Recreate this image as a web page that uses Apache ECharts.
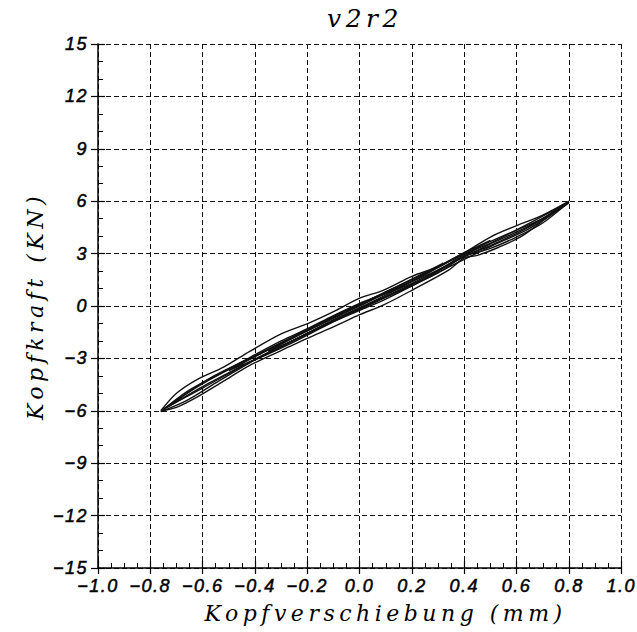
<!DOCTYPE html>
<html>
<head>
<meta charset="utf-8">
<script src="https://cdn.jsdelivr.net/npm/echarts@6/dist/echarts.min.js"></script>
<style>
  html, body { margin: 0; padding: 0; background: #fff; }
  #chart { width: 637px; height: 632px; }
  /* wide, typewriter-like spacing for all chart text */
  #chart text { letter-spacing: 1.5px; }
  #chart text[style*="Serif"], #chart text[font-family*="Serif"] { letter-spacing: 4.5px; }
</style>
</head>
<body>
<div id="chart"></div>
<script>
// Head displacement (mm) vs. head force (kN), test v2r2: hysteresis cycles.
const chartTitle = 'v2r2';
const xTitle = 'Kopfverschiebung (mm)';
const yTitle = 'Kopfkraft (KN)';

const xTicks = [-1.0, -0.8, -0.6, -0.4, -0.2, 0.0, 0.2, 0.4, 0.6, 0.8, 1.0];
const yTicks = [-15, -12, -9, -6, -3, 0, 3, 6, 9, 12, 15];

// Each cycle: [displacement, force] pairs, out along one branch and back along the other.
const cycle1 = [
  [-0.76, -6.0], [-0.70, -5.0], [-0.62, -4.2], [-0.52, -3.5], [-0.42, -2.6],
  [-0.30, -1.6], [-0.19, -0.95], [-0.09, -0.25], [0.00, 0.45], [0.09, 0.9],
  [0.20, 1.7], [0.30, 2.25], [0.40, 3.05], [0.50, 3.95], [0.60, 4.6],
  [0.70, 5.2], [0.80, 6.0],
  [0.72, 5.1], [0.62, 4.0], [0.53, 3.35], [0.45, 2.9], [0.40, 2.75],
  [0.34, 2.05], [0.20, 0.9], [0.09, 0.05], [0.00, -0.5], [-0.10, -1.2],
  [-0.20, -1.85], [-0.30, -2.55], [-0.42, -3.4], [-0.52, -4.3], [-0.62, -5.2],
  [-0.70, -5.8], [-0.76, -6.0]
];
const cycle2 = [
  [-0.76, -6.05], [-0.66, -4.9], [-0.55, -4.0], [-0.42, -2.95], [-0.30, -2.0],
  [-0.20, -1.3], [-0.10, -0.55], [0.00, 0.15], [0.10, 0.75], [0.20, 1.4],
  [0.30, 2.2], [0.40, 3.0], [0.50, 3.7], [0.60, 4.35], [0.70, 5.0], [0.80, 5.95],
  [0.70, 4.75], [0.60, 3.95], [0.50, 3.3], [0.40, 2.85], [0.30, 2.0],
  [0.20, 1.15], [0.10, 0.4], [0.00, -0.25], [-0.10, -0.9], [-0.20, -1.6],
  [-0.30, -2.35], [-0.42, -3.25], [-0.55, -4.4], [-0.66, -5.4], [-0.76, -6.05]
];
const cycle3 = [
  [-0.75, -5.9], [-0.60, -4.45], [-0.45, -3.25], [-0.30, -2.1], [-0.15, -1.0],
  [0.00, 0.0], [0.15, 1.1], [0.30, 2.05], [0.40, 2.95], [0.50, 3.6],
  [0.65, 4.75], [0.79, 5.85],
  [0.65, 4.55], [0.50, 3.45], [0.40, 2.85], [0.30, 1.9], [0.15, 0.85],
  [0.00, -0.2], [-0.15, -1.2], [-0.30, -2.3], [-0.45, -3.45], [-0.60, -4.7],
  [-0.75, -5.9]
];
const cycle4 = [
  [-0.74, -5.85], [-0.58, -4.2], [-0.40, -2.85], [-0.25, -1.75], [-0.10, -0.6],
  [0.05, 0.4], [0.20, 1.3], [0.35, 2.45], [0.50, 3.55], [0.65, 4.6], [0.80, 5.9],
  [0.65, 4.45], [0.50, 3.4], [0.35, 2.3], [0.20, 1.15], [0.05, 0.2],
  [-0.10, -0.8], [-0.25, -1.95], [-0.40, -3.05], [-0.58, -4.45], [-0.74, -5.85]
];
const cycle5 = [
  [-0.50, -3.7], [-0.38, -2.75], [-0.25, -1.8], [-0.12, -0.85], [0.00, 0.05],
  [0.12, 0.95], [0.25, 1.85], [0.38, 2.9], [0.50, 3.75],
  [0.38, 2.7], [0.25, 1.6], [0.12, 0.7], [0.00, -0.15], [-0.12, -1.05],
  [-0.25, -2.05], [-0.38, -2.95], [-0.50, -3.7]
];
const cycle6 = [
  [-0.35, -2.6], [-0.22, -1.55], [-0.08, -0.45], [0.05, 0.45], [0.18, 1.4],
  [0.32, 2.45],
  [0.18, 1.25], [0.05, 0.25], [-0.08, -0.65], [-0.22, -1.75], [-0.35, -2.6]
];
const cycles = [cycle1, cycle2, cycle3, cycle4, cycle5, cycle6];

const ink = '#000';
const labelFont = {
  fontFamily: 'Liberation Sans', fontStyle: 'italic', fontSize: 18, color: ink,
  textBorderColor: ink, textBorderWidth: 0.5
};
const titleFont = { fontFamily: 'DejaVu Serif', fontStyle: 'italic', fontSize: 22, color: ink };
const minus = s => String(s).replace('-', '\u2212');

const grid = { left: 98, top: 44, width: 524, height: 524 };

const xBase = {
  type: 'value', min: xTicks[0], max: xTicks[xTicks.length - 1], interval: 0.2,
  position: 'bottom'
};
const yBase = {
  type: 'value', min: yTicks[0], max: yTicks[yTicks.length - 1], interval: 3,
  position: 'left'
};

const chart = echarts.init(document.getElementById('chart'), null, { renderer: 'svg' });
chart.setOption({
  animation: false,
  backgroundColor: '#fff',
  title: {
    text: chartTitle, left: 360, top: 1, textAlign: 'center',
    textStyle: Object.assign({}, titleFont, { fontSize: 25, fontWeight: 'normal' })
  },
  grid: grid,
  xAxis: [
    Object.assign({}, xBase, {
      name: xTitle, nameLocation: 'middle', nameGap: 34,
      nameTextStyle: Object.assign({ padding: [0, 0, 0, 52] }, titleFont),
      axisLine: { show: true, onZero: false, lineStyle: { color: ink, width: 1.5 } },
      axisTick: { show: true, inside: false, length: 6, lineStyle: { color: ink, width: 1.2 } },
      minorTick: { show: false },
      axisLabel: Object.assign({ margin: 9, formatter: v => minus(v.toFixed(1)) }, labelFont),
      splitLine: { show: true, lineStyle: { color: '#111', width: 1, type: [5, 3] } }
    }),
    Object.assign({}, xBase, {
      axisLine: { show: false, onZero: false },
      axisTick: { show: true, inside: true, length: 7, lineStyle: { color: ink, width: 1.2 } },
      minorTick: { show: true, splitNumber: 4, length: 5, lineStyle: { color: ink, width: 1 } },
      axisLabel: { show: false },
      splitLine: { show: false }
    })
  ],
  yAxis: [
    Object.assign({}, yBase, {
      name: yTitle, nameLocation: 'middle', nameGap: 52, nameRotate: 90,
      nameTextStyle: titleFont,
      axisLine: { show: true, onZero: false, lineStyle: { color: ink, width: 1.5 } },
      axisTick: { show: true, inside: false, length: 7, lineStyle: { color: ink, width: 1.2 } },
      minorTick: { show: false },
      axisLabel: Object.assign({ margin: 10, formatter: v => minus(v) }, labelFont),
      splitLine: { show: true, lineStyle: { color: '#111', width: 1, type: [5, 3] } }
    }),
    Object.assign({}, yBase, {
      axisLine: { show: false, onZero: false },
      axisTick: { show: true, inside: true, length: 7, lineStyle: { color: ink, width: 1.2 } },
      minorTick: { show: true, splitNumber: 3, length: 5, lineStyle: { color: ink, width: 1 } },
      axisLabel: { show: false },
      splitLine: { show: false }
    })
  ],
  series: cycles.map(c => ({
    type: 'line', data: c, xAxisIndex: 0, yAxisIndex: 0,
    showSymbol: false, smooth: 0.3, silent: true,
    lineStyle: { color: '#111', width: 1.4 }
  }))
});
</script>
</body>
</html>
